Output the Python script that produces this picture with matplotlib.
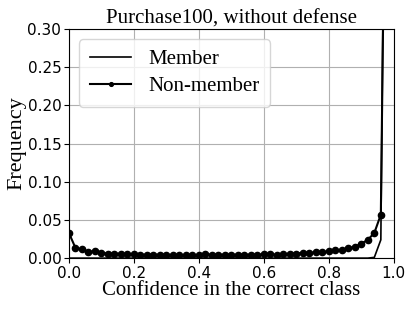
import numpy as np
import matplotlib.pyplot as plt

# bins de confianza (0, 0.02, ..., 0.98)
x = np.arange(50) * 0.02

member = [0.0] * 47 + [0.001, 0.024, 0.94]

non_member = [0.033, 0.0136, 0.0114, 0.0084, 0.009, 0.007, 0.006, 0.006, 0.0055, 0.005,
              0.005, 0.0045, 0.0045, 0.0045, 0.0045, 0.0045, 0.004, 0.004, 0.004, 0.004,
              0.004, 0.005, 0.0045, 0.0045, 0.0045, 0.0045, 0.0045, 0.0045, 0.0045, 0.0045,
              0.005, 0.005, 0.0045, 0.005, 0.006, 0.006, 0.007, 0.007, 0.0075, 0.008,
              0.009, 0.010, 0.011, 0.013, 0.015, 0.019, 0.024, 0.033, 0.057, 0.78]

serif = ['Liberation Serif', 'DejaVu Serif']

fig = plt.figure(figsize=(4.15, 3.11), dpi=100)
ax = fig.add_axes([0.166, 0.170, 0.783, 0.737])

ax.plot(x, member, '-', color='black', lw=1.2, label='Member')
ax.plot(x, non_member, '-', color='black', lw=1.5, marker='o', markersize=4.5, label='Non-member')

ax.set_xlim(0, 1)
ax.set_ylim(0, 0.3)
ax.set_xticks([0, 0.2, 0.4, 0.6, 0.8, 1.0])
ax.set_yticks([0, 0.05, 0.1, 0.15, 0.2, 0.25, 0.3])
ax.set_yticklabels(['0.00', '0.05', '0.10', '0.15', '0.20', '0.25', '0.30'])
ax.tick_params(labelsize=11, pad=2)
ax.grid(True, color='#b0b0b0', lw=0.8)

ax.set_title('Purchase100, without defense', family=serif, fontsize=15, pad=2)
ax.set_xlabel('Confidence in the correct class', family=serif, fontsize=15, labelpad=0)
ax.set_ylabel('Frequency', family=serif, fontsize=16, labelpad=1)
leg = ax.legend(loc='upper left', prop={'family': serif, 'size': 15}, handlelength=2.0,
                handletextpad=0.8, borderpad=0.5, labelspacing=0.35, markerscale=0.6)

plt.savefig('out.png')
